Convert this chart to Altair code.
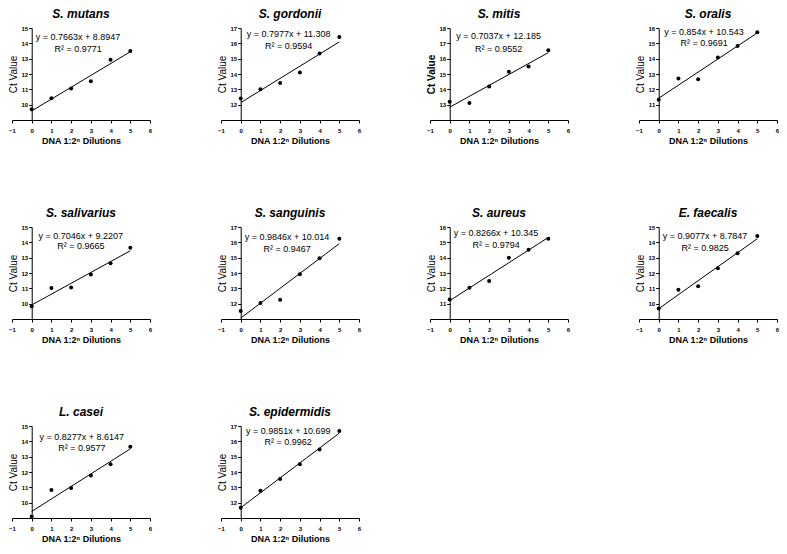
import altair as alt
import pandas as pd

# ---- data ----
dilutions = [0, 1, 2, 3, 4, 5]
species = ["S. mutans", "S. gordonii", "S. mitis", "S. oralis",
           "S. salivarius", "S. sanguinis", "S. aureus", "E. faecalis",
           "L. casei", "S. epidermidis"]

mutans_ct = [9.70, 10.42, 11.05, 11.52, 12.93, 13.50]
gordonii_ct = [12.40, 13.01, 13.41, 14.10, 15.34, 16.41]
mitis_ct = [13.19, 13.11, 14.19, 15.15, 15.49, 16.55]
oralis_ct = [11.32, 12.70, 12.66, 14.07, 14.82, 15.73]
salivarius_ct = [9.83, 11.02, 11.06, 11.91, 12.63, 13.64]
sanguinis_ct = [11.52, 12.04, 12.25, 13.92, 14.96, 16.23]
aureus_ct = [11.27, 12.03, 12.48, 14.00, 14.52, 15.24]
faecalis_ct = [9.68, 10.91, 11.14, 12.31, 13.28, 14.41]
casei_ct = [9.10, 10.83, 10.96, 11.77, 12.50, 13.65]
epidermidis_ct = [11.67, 12.77, 13.54, 14.50, 15.46, 16.67]

ct_series = [mutans_ct, gordonii_ct, mitis_ct, oralis_ct, salivarius_ct,
             sanguinis_ct, aureus_ct, faecalis_ct, casei_ct, epidermidis_ct]

equations = ["y = 0.7663x + 8.8947", "y = 0.7977x + 11.308", "y = 0.7037x + 12.185",
             "y = 0.854x + 10.543", "y = 0.7046x + 9.2207", "y = 0.9846x + 10.014",
             "y = 0.8266x + 10.345", "y = 0.9077x + 8.7847", "y = 0.8277x + 8.6147",
             "y = 0.9851x + 10.699"]
r_squared = ["R² = 0.9771", "R² = 0.9594", "R² = 0.9552", "R² = 0.9691", "R² = 0.9665",
             "R² = 0.9467", "R² = 0.9794", "R² = 0.9825", "R² = 0.9577", "R² = 0.9962"]

y_min = [9, 11, 12, 10, 9, 11, 10, 9, 9, 11]
y_max = [15, 17, 18, 16, 15, 17, 16, 15, 15, 17]

eq_x = [2.35, 2.43, 2.48, 2.30, 2.49, 2.35, 2.35, 2.35, 2.54, 2.41]
eq_y = [14.41, 16.62, 17.45, 15.77, 14.43, 16.38, 15.62, 14.41, 14.27, 16.69]
r2_y = [13.63, 15.84, 16.66, 14.99, 13.73, 15.58, 14.84, 13.62, 13.54, 15.96]

x_ticks = [-1, 0, 1, 2, 3, 4, 5, 6]

FONT = "Liberation Sans"
W = 138
H = 92


def panel(i):
    df = pd.DataFrame({"x": dilutions, "ct": ct_series[i]})
    ann = pd.DataFrame({
        "x": [eq_x[i], eq_x[i]],
        "ct": [eq_y[i], r2_y[i]],
        "label": [equations[i], r_squared[i]],
    })
    lo, hi = y_min[i], y_max[i]
    xenc = alt.X("x:Q",
                 scale=alt.Scale(domain=[-1, 6], nice=False, zero=False),
                 axis=alt.Axis(values=x_ticks, title="DNA 1:2ⁿ Dilutions",
                               labelFlush=False, labelOverlap=False,
                               labelFont=FONT, labelFontSize=6, labelFontWeight="bold",
                               labelColor="black", labelPadding=4,
                               tickSize=3, tickColor="black", domainColor="black",
                               titleFont=FONT, titleFontSize=9, titleFontWeight="bold",
                               titleColor="black", titlePadding=3, grid=False))
    yenc = alt.Y("ct:Q",
                 scale=alt.Scale(domain=[lo, hi], nice=False, zero=False),
                 axis=alt.Axis(values=list(range(lo + 1, hi + 1)), title="Ct Value",
                               offset=-W / 7.0,
                               labelFont=FONT, labelFontSize=6, labelFontWeight="bold",
                               labelColor="black", labelPadding=1,
                               tickSize=3, tickColor="black", domainColor="black",
                               titleFont=FONT, titleFontSize=10,
                               titleFontWeight="bold" if species[i] == "S. mitis" else "normal",
                               titleColor="black", titlePadding=3, grid=False))
    base = alt.Chart(df).encode(x=xenc, y=yenc)
    pts = base.mark_circle(size=16, color="black", opacity=1)
    fit = base.transform_regression("x", "ct").mark_line(color="black", strokeWidth=1)
    txt = alt.Chart(ann).mark_text(font=FONT, fontSize=9, color="black").encode(
        x=xenc, y=yenc, text="label:N",
    )
    return alt.layer(fit, pts, txt).properties(
        width=W, height=H,
        title=alt.TitleParams(text=species[i], font=FONT, fontSize=12,
                              fontWeight="bold", fontStyle="italic",
                              color="black", anchor="middle", offset=4),
    )


chart = alt.concat(*[panel(i) for i in range(len(species))], columns=4,
                   bounds="flush",
                   spacing={"row": 107, "column": 71}).properties(
    padding=0
).configure_view(stroke=None)

chart.save("out.html", embed_options={"renderer": "svg", "actions": False})
